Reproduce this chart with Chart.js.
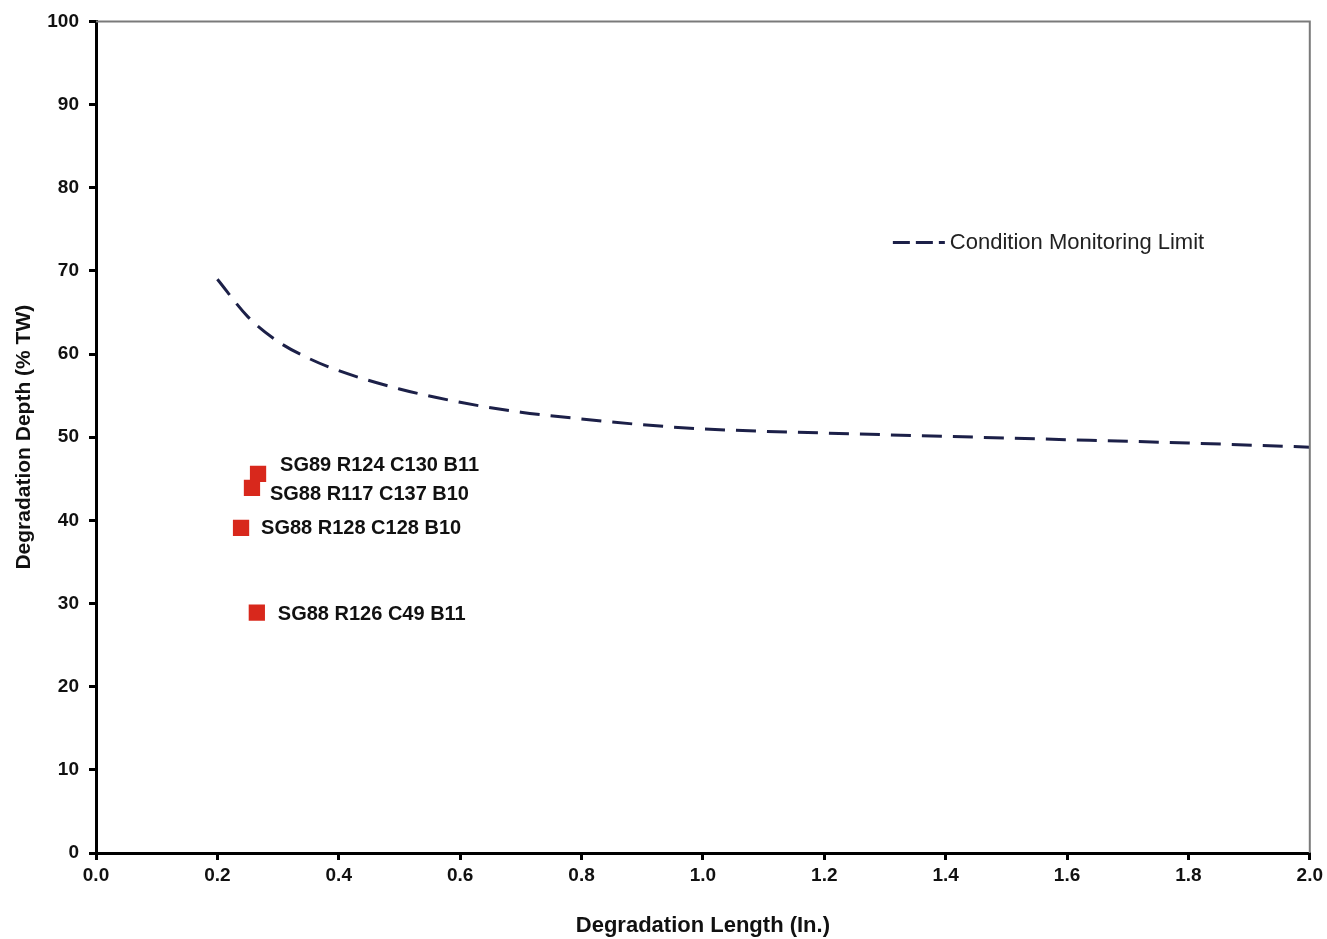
<!DOCTYPE html>
<html>
<head>
<meta charset="utf-8">
<title>Degradation Depth vs Length</title>
<script src="https://cdn.jsdelivr.net/npm/chart.js@4.4.1/dist/chart.umd.min.js"></script>
<style>
  html, body { margin: 0; padding: 0; background: #fff; }
  #wrap { width: 1327px; height: 939px; position: relative; }
</style>
</head>
<body>
<div id="wrap"><canvas id="c" width="1327" height="939"></canvas></div>
<script>
// Condition monitoring limit curve (length in inches, depth in %TW)
const limitLength = [0.20, 0.25, 0.30, 0.35, 0.40, 0.50, 0.60, 0.70, 0.80, 0.90, 1.00, 1.20, 1.40, 1.60, 1.80, 2.00];
const limitDepth  = [69.0, 64.5, 61.5, 59.5, 58.0, 55.8, 54.2, 53.0, 52.2, 51.5, 51.0, 50.5, 50.1, 49.7, 49.3, 48.8];

// Indications
const flawNames  = ['SG89 R124 C130 B11', 'SG88 R117 C137 B10', 'SG88 R128 C128 B10', 'SG88 R126 C49 B11'];
const flawLength = [0.267, 0.257, 0.239, 0.265];
const flawDepth  = [45.6, 43.9, 39.1, 28.9];

// Axis ticks
const xTicks = [0.0, 0.2, 0.4, 0.6, 0.8, 1.0, 1.2, 1.4, 1.6, 1.8, 2.0];
const yTicks = [0, 10, 20, 30, 40, 50, 60, 70, 80, 90, 100];

// Label placement next to each marker (pixels)
const labelShift = [[22, -8], [18, 7], [20, 1], [21, 2]];

const FONT = '"Liberation Sans", Arial, sans-serif';

const frameAndLabels = {
  id: 'frameAndLabels',
  afterDatasetsDraw(chart) {
    const { ctx, chartArea: a } = chart;
    ctx.save();
    // top and right frame lines
    ctx.strokeStyle = '#7a7a7a';
    ctx.lineWidth = 2;
    ctx.beginPath();
    ctx.moveTo(a.left, a.top);
    ctx.lineTo(a.right, a.top);
    ctx.lineTo(a.right, a.bottom);
    ctx.stroke();

    // indication labels
    const meta = chart.getDatasetMeta(1);
    ctx.fillStyle = '#111';
    ctx.font = 'bold 20px ' + FONT;
    ctx.textBaseline = 'middle';
    ctx.textAlign = 'left';
    meta.data.forEach((pt, i) => {
      const s = labelShift[i];
      ctx.fillText(flawNames[i], pt.x + s[0], pt.y + s[1]);
    });

    // legend
    const lx = chart.scales.x.getPixelForValue(1.313);
    const ly = chart.scales.y.getPixelForValue(73.4);
    ctx.strokeStyle = '#1c2048';
    ctx.lineWidth = 3;
    ctx.setLineDash([17, 6]);
    ctx.beginPath();
    ctx.moveTo(lx, ly);
    ctx.lineTo(lx + 52, ly);
    ctx.stroke();
    ctx.setLineDash([]);
    ctx.fillStyle = '#222';
    ctx.font = '22px ' + FONT;
    ctx.fillText(chart.data.datasets[0].label, lx + 57, ly);
    ctx.restore();
  }
};

new Chart(document.getElementById('c'), {
  data: {
    datasets: [
      {
        type: 'line',
        label: 'Condition Monitoring Limit',
        data: limitLength.map((x, i) => ({ x, y: limitDepth[i] })),
        borderColor: '#1c2048',
        borderWidth: 3,
        borderDash: [20, 11],
        pointRadius: 0,
        cubicInterpolationMode: 'monotone',
        fill: false
      },
      {
        type: 'scatter',
        label: 'Indications',
        data: flawLength.map((x, i) => ({ x, y: flawDepth[i] })),
        pointStyle: 'rect',
        pointRadius: 11.5,
        backgroundColor: '#d8281c',
        borderColor: '#d8281c',
        borderWidth: 0
      }
    ]
  },
  options: {
    responsive: false,
    animation: false,
    layout: { padding: { top: 20, right: 17, left: 0, bottom: 0 } },
    plugins: { legend: { display: false }, tooltip: { enabled: false } },
    scales: {
      x: {
        type: 'linear',
        min: 0, max: 2,
        afterFit(s) { s.height = 86; },
        afterBuildTicks(s) { s.ticks = xTicks.map(v => ({ value: v })); },
        border: { color: '#000', width: 3 },
        grid: { drawOnChartArea: false, drawTicks: true, tickLength: 7, color: '#000', lineWidth: 3 },
        ticks: {
          color: '#111', padding: 4,
          font: { family: FONT, size: 19, weight: 'bold' },
          callback: v => Number(v).toFixed(1),
          maxRotation: 0, autoSkip: false
        },
        title: {
          display: true, text: 'Degradation Length (In.)', color: '#111',
          font: { family: FONT, size: 22, weight: 'bold' },
          padding: { top: 10, bottom: 0 }
        }
      },
      y: {
        type: 'linear',
        min: 0, max: 100,
        afterFit(s) { s.width = 96; },
        afterBuildTicks(s) { s.ticks = yTicks.map(v => ({ value: v })); },
        border: { color: '#000', width: 3 },
        grid: { drawOnChartArea: false, drawTicks: true, tickLength: 7, color: '#000', lineWidth: 3 },
        ticks: {
          color: '#111', padding: 10,
          font: { family: FONT, size: 19, weight: 'bold' },
          autoSkip: false
        },
        title: {
          display: true, text: 'Degradation Depth (% TW)', color: '#111',
          font: { family: FONT, size: 21, weight: 'bold' },
          padding: { top: 12, bottom: 0 }
        }
      }
    }
  },
  plugins: [frameAndLabels]
});
</script>
</body>
</html>
